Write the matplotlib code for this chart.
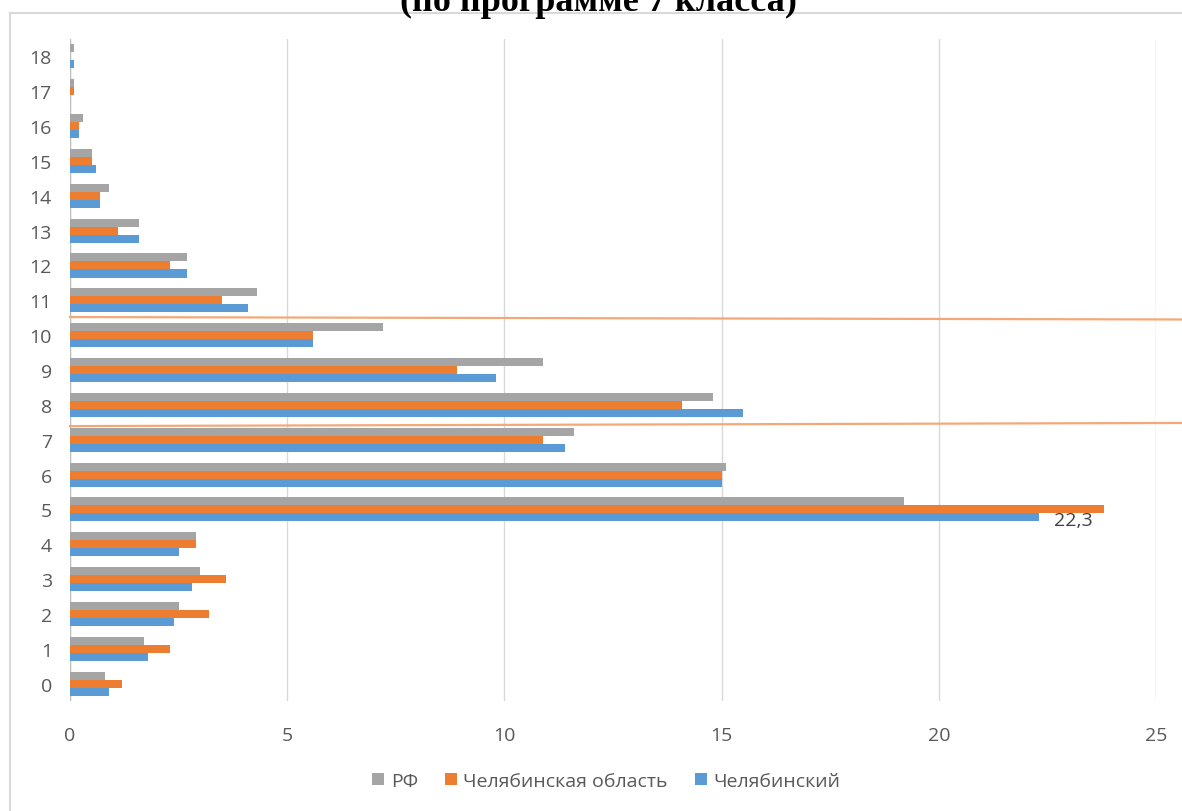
import matplotlib.pyplot as plt
from matplotlib.lines import Line2D
import numpy as np

# data
categories = list(range(19))
rf = [0.8, 1.7, 2.5, 3.0, 2.9, 19.2, 15.1, 11.6, 14.8, 10.9, 7.2, 4.3, 2.7, 1.6, 0.9, 0.5, 0.3, 0.1, 0.1]
oblast = [1.2, 2.3, 3.2, 3.6, 2.9, 23.8, 15.0, 10.9, 14.1, 8.9, 5.6, 3.5, 2.3, 1.1, 0.7, 0.5, 0.2, 0.1, 0.0]
chel = [0.9, 1.8, 2.4, 2.8, 2.5, 22.3, 15.0, 11.4, 15.5, 9.8, 5.6, 4.1, 2.7, 1.6, 0.7, 0.6, 0.2, 0.0, 0.1]
series_names = ['РФ', 'Челябинская область', 'Челябинский']
colors = ['#A5A5A5', '#ED7D31', '#5B9BD5']
xticks = [0, 5, 10, 15, 20, 25]
label_cat = 5
label_text = '22,3'
# hand drawn orange marker lines (y in category units, left / right end)
marker_lines = [(10.52, 10.45), (7.39, 7.48)]

fig = plt.figure(figsize=(11.82, 8.12), dpi=100)
ax = fig.add_axes([0.0592, 0.1355, 0.9188, 0.8152])

y = np.array(categories)
h = 0.23
for vals, name, col, off in zip([rf, oblast, chel], series_names, colors, [h, 0, -h]):
    ax.barh(y + off, vals, height=h, color=col, label=name, zorder=3)

ax.text(chel[label_cat] + 0.35, label_cat - 0.3, label_text, fontsize=14,
        color='#404040', va='center', ha='left', family='Open Sans', zorder=4)

ax.set_xlim(0, 25)
ax.set_ylim(-0.5, 18.5)
ax.set_xticks(xticks)
ax.set_yticks(categories)
ax.xaxis.grid(True, color='#D9D9D9', linewidth=1, zorder=0)
ax.axvline(0, color='#BFBFBF', linewidth=1, zorder=2)
for s in ax.spines.values():
    s.set_visible(False)
ax.tick_params(axis='both', length=0, labelsize=14, labelcolor='#595959')
ax.tick_params(axis='x', pad=18)
ax.tick_params(axis='y', pad=13)
for lbl in ax.get_xticklabels() + ax.get_yticklabels():
    lbl.set_family('Open Sans')

for y0, y1 in marker_lines:
    ax.plot([0, 25.6], [y0, y1], color='#F4A878', linewidth=1.6, clip_on=False, zorder=5)

leg = fig.legend(loc='center', bbox_to_anchor=(0.513, 0.037), ncol=3, frameon=False,
                 handlelength=0.6, handleheight=0.6, handletextpad=0.35, columnspacing=1.4,
                 prop={'family': 'Open Sans', 'size': 14})
for t in leg.get_texts():
    t.set_color('#595959')

# chart frame, cut on the right and bottom
fig.add_artist(Line2D([0.0085, 0.0085], [0.0, 0.983], color='#D9D9D9', linewidth=1.5))
fig.add_artist(Line2D([0.0085, 1.0], [0.983, 0.983], color='#D9D9D9', linewidth=1.5))

# title, cut at the top edge of the image
fig.text(0.506, 1 - 11 / 812, '(по программе 7 класса)', ha='center', va='baseline',
         fontsize=26, fontweight='bold', family='Liberation Serif')

fig.savefig('out.png', dpi=100)
